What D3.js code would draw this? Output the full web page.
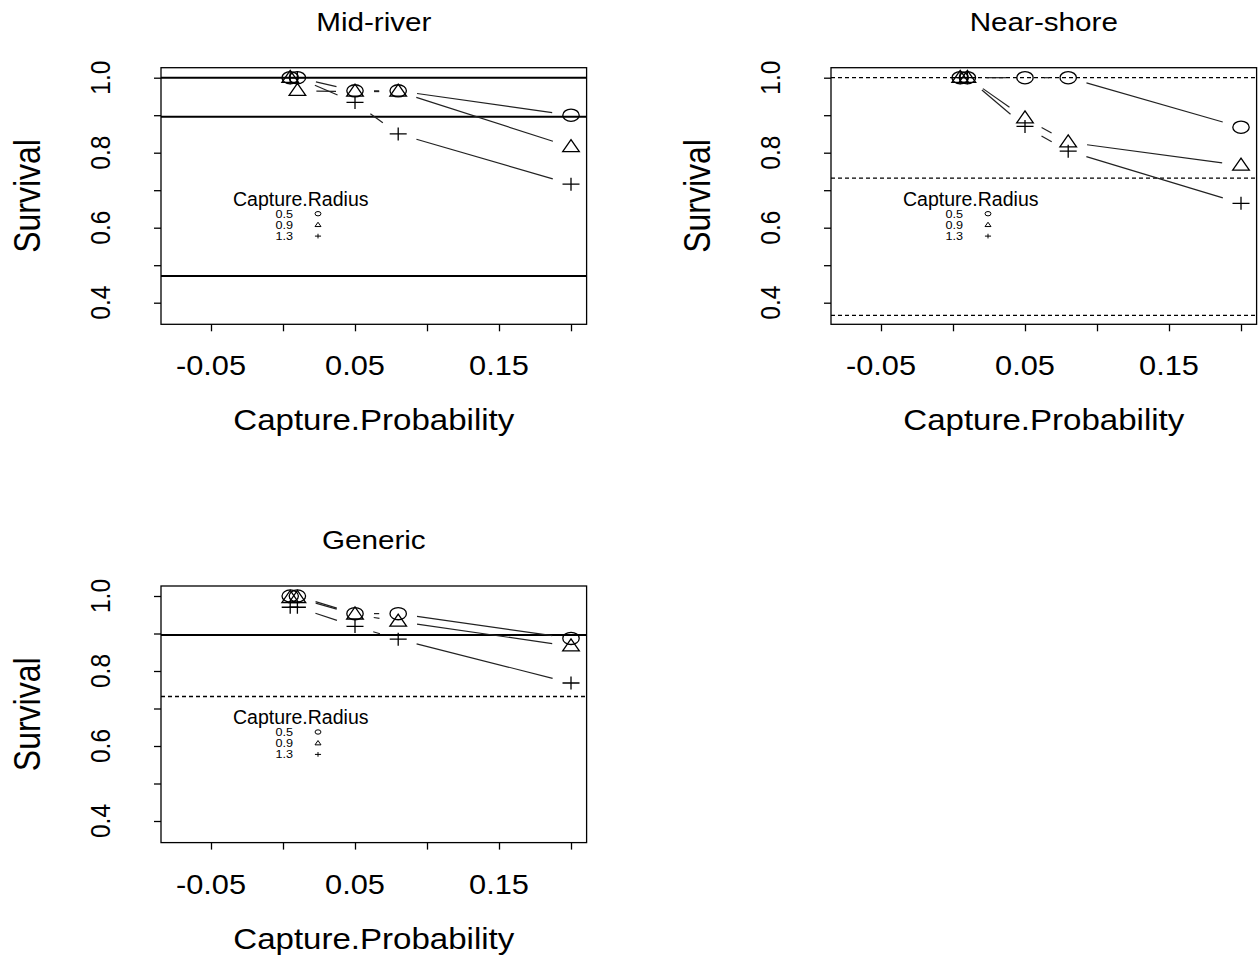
<!DOCTYPE html>
<html>
<head>
<meta charset="utf-8">
<script src="https://cdn.jsdelivr.net/npm/d3@7"></script>
<style>
  html, body { margin: 0; padding: 0; background: #fff; }
  svg { display: block; }
  text { font-family: "Liberation Sans", Arial, Helvetica, sans-serif; fill: #000; }
</style>
</head>
<body>
<svg id="chart" width="1258" height="964"></svg>
<script>
// ---- data ----
const captureProbability = [0.005, 0.01, 0.05, 0.08, 0.2];
const captureRadius = ["0.5", "0.9", "1.3"];

const midRiver05 = [1.0, 1.0, 0.965, 0.965, 0.900];
const midRiver09 = [1.0, 0.965, 0.963, 0.963, 0.815];
const midRiver13 = [1.0, 1.0, 0.934, 0.850, 0.716];

const nearShore05 = [1.0, 1.0, 1.0, 1.0, 0.868];
const nearShore09 = [1.0, 1.0, 0.892, 0.828, 0.766];
const nearShore13 = [1.0, 1.0, 0.870, 0.804, 0.665];

const generic05 = [1.0, 1.0, 0.953, 0.953, 0.887];
const generic09 = [0.995, 0.995, 0.951, 0.932, 0.866];
const generic13 = [0.970, 0.970, 0.919, 0.885, 0.768];

// reference levels drawn across each panel
const midRiverSolid = [1.0, 0.896, 0.471];
const midRiverDashed = [];
const nearShoreSolid = [];
const nearShoreDashed = [1.0, 0.732, 0.366];
const genericSolid = [0.896];
const genericDashed = [0.732];

const xTicks = [-0.05, 0, 0.05, 0.10, 0.15, 0.20];
const xTickLabels = ["-0.05", "", "0.05", "", "0.15", ""];
const yTicks = [0.4, 0.5, 0.6, 0.7, 0.8, 0.9, 1.0];
const yTickLabels = ["0.4", "", "0.6", "", "0.8", "", "1.0"];

const panels = [
  { title: "Mid-river",  left: 161, top: 67.7,
    series: [midRiver05, midRiver09, midRiver13], solid: midRiverSolid, dashed: midRiverDashed },
  { title: "Near-shore", left: 831, top: 67.7,
    series: [nearShore05, nearShore09, nearShore13], solid: nearShoreSolid, dashed: nearShoreDashed },
  { title: "Generic",    left: 161, top: 586,
    series: [generic05, generic09, generic13], solid: genericSolid, dashed: genericDashed }
];

// ---- layout ----
const boxW = 425.6, boxH = 256.6;
const xDomain = [-0.08472, 0.21083];
const yDomain = [0.3424, 1.02667];
const SX = 1.14;           // horizontal glyph stretch of the axis text
const GAP = 19;            // line gap around each point (type "b")

const svg = d3.select("#chart");

// plotting symbols: open circle, open triangle, plus
function symbolPath(kind, s) {
  if (kind === 0) {
    const rx = 8.2 * s, ry = 6.1 * s;
    return `M${-rx},0 A${rx},${ry} 0 1,0 ${rx},0 A${rx},${ry} 0 1,0 ${-rx},0 Z`;
  }
  if (kind === 1) {
    return `M0,${-7.4 * s} L${8.3 * s},${4.6 * s} L${-8.3 * s},${4.6 * s} Z`;
  }
  return `M${-8.5 * s},0 H${8.5 * s} M0,${-6.5 * s} V${6.5 * s}`;
}

panels.forEach(p => {
  const g = svg.append("g").attr("transform", `translate(${p.left},${p.top})`);
  const x = d3.scaleLinear().domain(xDomain).range([0, boxW]);
  const y = d3.scaleLinear().domain(yDomain).range([boxH, 0]);

  // reference lines
  const refs = g.append("g");
  p.solid.forEach(v => {
    refs.append("line").attr("x1", 0).attr("x2", boxW)
      .attr("y1", y(v)).attr("y2", y(v))
      .attr("stroke", "#000").attr("stroke-width", 2);
  });
  p.dashed.forEach(v => {
    refs.append("line").attr("x1", 0).attr("x2", boxW)
      .attr("y1", y(v)).attr("y2", y(v))
      .attr("stroke", "#000").attr("stroke-width", 1.3)
      .attr("stroke-dasharray", "4,3");
  });

  // traces: broken lines with gaps around the points
  p.series.forEach((vals, si) => {
    const pts = captureProbability.map((cp, i) => [x(cp), y(vals[i])]);
    for (let i = 1; i < pts.length; i++) {
      const [x0, y0] = pts[i - 1], [x1, y1] = pts[i];
      const d = Math.hypot(x1 - x0, y1 - y0);
      const f = GAP / d;
      if (f < 0.5) {
        g.append("line")
          .attr("x1", x0 + f * (x1 - x0)).attr("y1", y0 + f * (y1 - y0))
          .attr("x2", x1 + f * (x0 - x1)).attr("y2", y1 + f * (y0 - y1))
          .attr("stroke", "#222").attr("stroke-width", 1.2);
      }
    }
    g.selectAll(null).data(pts).enter().append("path")
      .attr("d", symbolPath(si, 1))
      .attr("transform", d => `translate(${d[0]},${d[1]})`)
      .attr("fill", "none").attr("stroke", "#000").attr("stroke-width", 1.3);
  });

  // box
  g.append("rect").attr("x", 0).attr("y", 0).attr("width", boxW).attr("height", boxH)
    .attr("fill", "none").attr("stroke", "#000").attr("stroke-width", 1.3);

  // axes (tick marks)
  const xAxis = g.append("g").attr("transform", `translate(0,${boxH})`)
    .call(d3.axisBottom(x).tickValues(xTicks).tickSize(7).tickFormat(""));
  const yAxis = g.append("g")
    .call(d3.axisLeft(y).tickValues(yTicks).tickSize(7).tickFormat(""));
  [xAxis, yAxis].forEach(a => {
    a.select(".domain").remove();
    a.selectAll(".tick line").attr("stroke", "#000").attr("stroke-width", 1.3);
  });

  // tick labels
  xTicks.forEach((t, i) => {
    if (!xTickLabels[i]) return;
    g.append("text").text(xTickLabels[i])
      .attr("transform", `translate(${x(t)},${boxH + 51}) scale(${SX},1)`)
      .attr("text-anchor", "middle").attr("font-size", 27);
  });
  yTicks.forEach((t, i) => {
    if (!yTickLabels[i]) return;
    g.append("text").text(yTickLabels[i])
      .attr("transform", `translate(-51,${y(t)}) scale(${SX},1) rotate(-90)`)
      .attr("text-anchor", "middle").attr("font-size", 24.5);
  });

  // axis titles and panel title
  g.append("text").text("Capture.Probability")
    .attr("transform", `translate(${boxW / 2},${boxH + 106}) scale(${SX},1)`)
    .attr("text-anchor", "middle").attr("font-size", 29);
  g.append("text").text("Survival")
    .attr("transform", `translate(-121,${boxH / 2}) scale(${SX},1) rotate(-90)`)
    .attr("text-anchor", "middle").attr("font-size", 32);
  g.append("text").text(p.title)
    .attr("transform", `translate(${boxW / 2},-37) scale(${SX},1)`)
    .attr("text-anchor", "middle").attr("font-size", 26);

  // legend
  const lg = g.append("g").attr("transform", "translate(72,138)");
  lg.append("text").text("Capture.Radius").attr("x", 0).attr("y", 0)
    .attr("font-size", 19.5);
  captureRadius.forEach((r, i) => {
    const by = 12 + i * 11.2;
    lg.append("text").text(r)
      .attr("transform", `translate(60,${by}) scale(1.1,1)`)
      .attr("text-anchor", "end").attr("font-size", 11.5);
    lg.append("path").attr("d", symbolPath(i, 0.36))
      .attr("transform", `translate(85,${by - 4})`)
      .attr("fill", "none").attr("stroke", "#000").attr("stroke-width", 1);
  });
});
</script>
</body>
</html>
